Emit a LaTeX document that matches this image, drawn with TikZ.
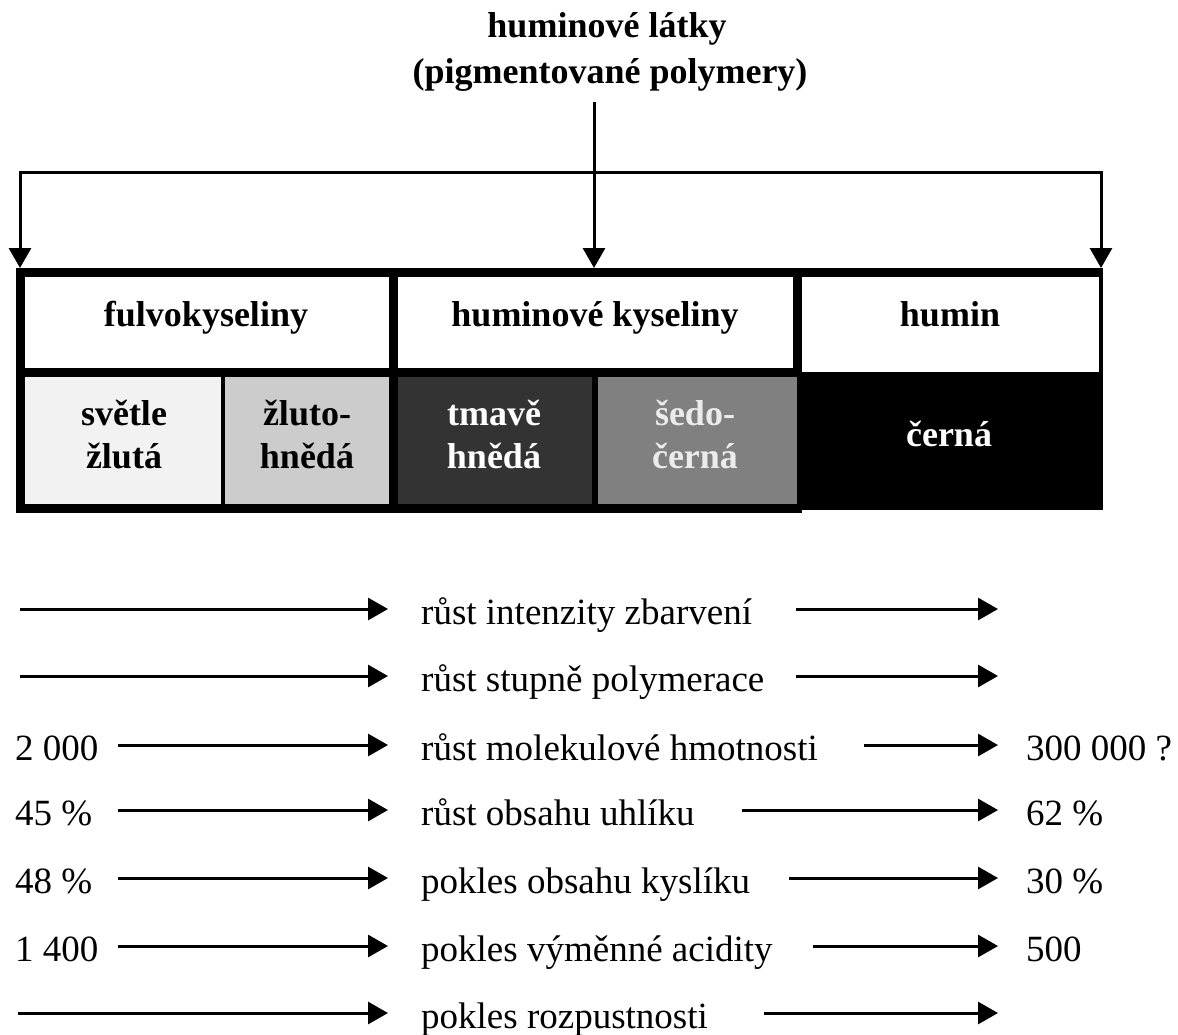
\documentclass[tikz,border=0pt]{standalone}
\usepackage{fontspec}
\setmainfont{Liberation Serif}
\usetikzlibrary{arrows.meta}
\definecolor{cLight}{HTML}{F2F2F2}
\definecolor{cGray}{HTML}{CCCCCC}
\definecolor{cDark}{HTML}{333333}
\definecolor{cMid}{HTML}{808080}
\begin{document}
\begin{tikzpicture}[x=1pt,y=-1pt,
  txt/.style={font=\fontsize{37}{45}\selectfont, inner sep=0pt},
  bt/.style={font=\fontsize{36}{45}\selectfont\bfseries, inner sep=0pt},
  bigarrow/.style={line width=3pt, -{Triangle[length=20pt,width=22pt]}},
  rowarrow/.style={line width=3pt, -{Triangle[length=20pt,width=22pt]}},
  frame/.style={line width=9pt, line cap=rect},
]
\useasboundingbox[fill=white] (0,0) rectangle (1178,1034);

% ---------- title ----------
\node[bt, anchor=base] (title1) at (607,37) {huminové látky};
\node[bt, anchor=base] (title2) at (610,83) {(pigmentované polymery)};

% ---------- table fills ----------
\fill[cLight] (24,377) rectangle (223,504);
\fill[cGray]  (223,377) rectangle (393,504);
\fill[cDark]  (393,377) rectangle (595,504);
\fill[cMid]   (595,377) rectangle (797,504);
\fill[black]  (797,372) rectangle (1103,510);

% ---------- table borders ----------
\draw[line width=9pt] (15.5,272) -- (1103,272);
\draw[frame] (20,272) -- (20,508);
\draw[frame] (20,508) -- (797,508);
\draw[frame] (20,372) -- (797,372);
\draw[frame] (393,272) -- (393,508);
\draw[frame] (797,272) -- (797,372);
\draw[line width=4pt] (1101,268) -- (1101,510);
\draw[line width=4pt] (223,372) -- (223,508);
\draw[line width=6pt] (595,372) -- (595,508);

% ---------- table texts ----------
\node[bt, anchor=base] (fulvo) at (206,326) {fulvokyseliny};
\node[bt, anchor=base] (humkys) at (595,326) {huminové kyseliny};
\node[bt, anchor=base] (humin) at (950,326) {humin};
\node[bt, anchor=base] (c1a) at (124,425) {světle};
\node[bt, anchor=base] (c1b) at (124,468) {žlutá};
\node[bt, anchor=base] (c2a) at (307,425) {žluto-};
\node[bt, anchor=base] (c2b) at (307,468) {hnědá};
\node[bt, anchor=base, text=white] (c3a) at (494,425) {tmavě};
\node[bt, anchor=base, text=white] (c3b) at (494,468) {hnědá};
\node[bt, anchor=base, text=white!92!black] (c4a) at (695,425) {šedo-};
\node[bt, anchor=base, text=white!92!black] (c4b) at (695,468) {černá};
\node[bt, anchor=base, text=white] (c5) at (949,446) {černá};

% ---------- top connectors ----------
\coordinate (vtop) at (594,102);
\coordinate (L) at (20,172);
\coordinate (R) at (1101,172);
\coordinate (ftop) at (20,268);
\coordinate (ktop) at (594,268);
\coordinate (htop) at (1101,268);
\draw[line width=3pt, line cap=rect] (L) -- (R);
\draw[bigarrow] (vtop) -- (ktop);
\draw[bigarrow] (L) -- (ftop);
\draw[bigarrow] (R) -- (htop);

% ---------- rows ----------
\foreach \i/\y/\ls/\t/\rs in {
  1/609/20/{růst intenzity zbarvení}/796,
  2/676/20/{růst stupně polymerace}/796,
  3/745/118/{růst molekulové hmotnosti}/864,
  4/810/118/{růst obsahu uhlíku}/742,
  5/878/118/{pokles obsahu kyslíku}/789,
  6/946/118/{pokles výměnné acidity}/813,
  7/1013/18/{pokles rozpustnosti}/764}{
  \node[txt, anchor=base west] (t\i) at (421,\y+15) {\t};
  \coordinate (ls\i) at (\ls,\y);
  \coordinate (le\i) at (388,\y);
  \coordinate (rs\i) at (\rs,\y);
  \coordinate (re\i) at (998,\y);
  \draw[rowarrow] (ls\i) -- (le\i);
  \draw[rowarrow] (rs\i) -- (re\i);
}

% ---------- values ----------
\node[txt, anchor=base west] (v3l) at (15,760) {2 000};
\node[txt, anchor=base west] (v4l) at (15,825) {45 \%};
\node[txt, anchor=base west] (v5l) at (15,893) {48 \%};
\node[txt, anchor=base west] (v6l) at (15,961) {1 400};
\node[txt, anchor=base west] (v3r) at (1026,760) {300 000 ?};
\node[txt, anchor=base west] (v4r) at (1026,825) {62 \%};
\node[txt, anchor=base west] (v5r) at (1026,893) {30 \%};
\node[txt, anchor=base west] (v6r) at (1026,961) {500};
\end{tikzpicture}
\end{document}
